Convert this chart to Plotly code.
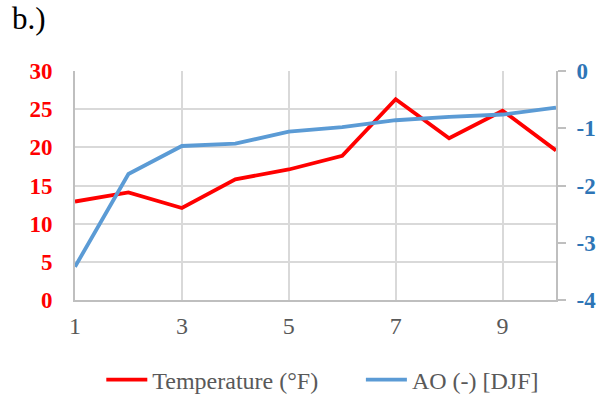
import plotly.graph_objects as go

years = [1, 2, 3, 4, 5, 6, 7, 8, 9, 10]
temperature_f = [12.9, 14.1, 12.05, 15.8, 17.1, 18.9, 26.3, 21.2, 24.8, 19.6]
ao_djf = [-3.42, -1.80, -1.31, -1.27, -1.06, -0.98, -0.86, -0.80, -0.76, -0.64]

temp_ticks = [0, 5, 10, 15, 20, 25, 30]
ao_ticks = [-4, -3, -2, -1, 0]
x_ticks = [1, 3, 5, 7, 9]

FONT = "Liberation Serif, Times New Roman, serif"
RED = "#FF0000"
BLUE = "#5B9BD5"
AXBLUE = "#2E75B6"
GRID = "#D9D9D9"
AXLINE = "#BFBFBF"
LEGFONT = dict(family=FONT, size=24, color="#595959")

fig = go.Figure()
fig.add_trace(go.Scatter(x=years, y=temperature_f, mode="lines", name="Temperature (°F)",
                         line=dict(color=RED, width=3.8), yaxis="y", legend="legend"))
fig.add_trace(go.Scatter(x=years, y=ao_djf, mode="lines", name="AO (-) [DJF]",
                         line=dict(color=BLUE, width=3.8), yaxis="y2", legend="legend2"))

fig.update_layout(
    width=603, height=395,
    margin=dict(l=75, r=47, t=71, b=95, autoexpand=False),
    paper_bgcolor="white", plot_bgcolor="white",
    font=dict(family=FONT, size=24, color="#595959"),
    showlegend=True,
    legend=dict(orientation="h", xref="container", yref="container",
                x=0.168, xanchor="left", y=0.038, yanchor="middle",
                itemwidth=41, font=LEGFONT, bgcolor="rgba(0,0,0,0)"),
    legend2=dict(orientation="h", xref="container", yref="container",
                 x=0.5985, xanchor="left", y=0.038, yanchor="middle",
                 itemwidth=41, font=LEGFONT, bgcolor="rgba(0,0,0,0)"),
    xaxis=dict(range=[1, 10], tickvals=x_ticks, ticktext=[str(v) for v in x_ticks],
               showgrid=True, gridcolor=GRID, gridwidth=1.5, zeroline=False,
               showline=True, linecolor=AXLINE, linewidth=2, ticks="",
               ticklabelstandoff=3, automargin=False,
               tickfont=dict(family=FONT, size=24, color="#595959")),
    yaxis=dict(range=[0, 30], tickvals=temp_ticks, ticktext=[str(v) for v in temp_ticks],
               showgrid=True, gridcolor=GRID, gridwidth=1.5, zeroline=False,
               showline=True, linecolor=AXLINE, linewidth=2, ticks="",
               ticklabelstandoff=16, automargin=False,
               tickfont=dict(family=FONT, size=23, color=RED, weight="bold")),
    yaxis2=dict(range=[-4, 0], tickvals=ao_ticks, ticktext=[str(v) for v in ao_ticks],
                overlaying="y", side="right", showgrid=False, zeroline=False,
                showline=True, linecolor=AXLINE, linewidth=2,
                ticks="outside", ticklen=8, tickwidth=2, tickcolor=AXLINE,
                ticklabelstandoff=6, automargin=False,
                tickfont=dict(family=FONT, size=23, color=AXBLUE, weight="bold")),
    annotations=[dict(text="b.)", xref="paper", yref="paper", x=-0.135, y=1.23,
                      xanchor="left", yanchor="middle", showarrow=False,
                      font=dict(family=FONT, size=31, color="black"))],
)

fig.write_html("out.html", config={"displayModeBar": False},
               post_script="document.body.style.margin='0';")
